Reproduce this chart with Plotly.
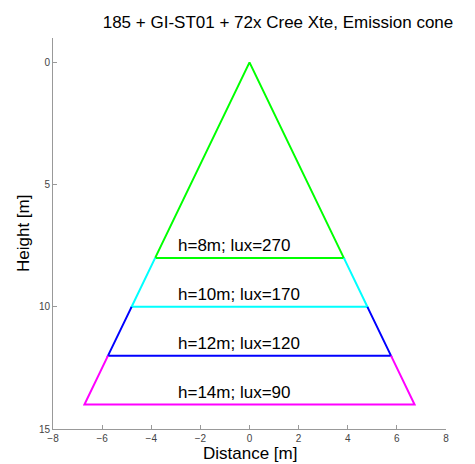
import plotly.graph_objects as go

heights = [8, 10, 12, 14]
half_widths = [3.84, 4.8, 5.76, 6.72]
lux = [270, 170, 120, 90]
colors = ["#00ff00", "#00ffff", "#0000ff", "#ff00ff"]
x_ticks = [-8, -6, -4, -2, 0, 2, 4, 6, 8]
y_ticks = [0, 5, 10, 15]
title = "185 + GI-ST01 + 72x Cree Xte, Emission cone"

FONT = "Liberation Sans, Arial, Helvetica, sans-serif"

fig = go.Figure()

prev_h, prev_w = 0, 0.0
for h, w, c in zip(heights, half_widths, colors):
    if prev_h == 0:
        xs = [-w, 0, w, -w]
        ys = [h, 0, h, h]
    else:
        xs = [-prev_w, -w, w, prev_w]
        ys = [prev_h, h, h, prev_h]
    fig.add_trace(go.Scatter(x=xs, y=ys, mode="lines",
                             line=dict(color=c, width=2), hoverinfo="skip",
                             showlegend=False))
    prev_h, prev_w = h, w

for h, l in zip(heights, lux):
    fig.add_annotation(x=-3, y=h - 0.5, xref="x", yref="y",
                       text=f"h={h}m; lux={l}", showarrow=False,
                       xanchor="left", yanchor="middle",
                       font=dict(family=FONT, size=17, color="#000"))

axis_common = dict(showgrid=False, zeroline=False, showline=True,
                   linecolor="#999", linewidth=1, ticks="inside",
                   ticklen=4, tickcolor="#999",
                   tickfont=dict(family=FONT, size=10, color="#444"))

fig.update_xaxes(range=[-8, 8], tickvals=x_ticks, **axis_common)
fig.update_yaxes(range=[15, -1], tickvals=y_ticks, **axis_common)

fig.add_annotation(x=0.5, y=0, xref="paper", yref="paper",
                   text="Distance [m]", showarrow=False,
                   xanchor="center", yanchor="top", yshift=-13,
                   font=dict(family=FONT, size=17, color="#000"))
fig.add_annotation(x=0, y=0.5, xref="paper", yref="paper",
                   text="Height [m]", showarrow=False, textangle=-90,
                   xanchor="right", yanchor="middle", xshift=-18,
                   font=dict(family=FONT, size=17, color="#000"))

fig.update_layout(
    width=475, height=464,
    margin=dict(l=53, r=29, t=38, b=35),
    plot_bgcolor="white", paper_bgcolor="white",
    title=dict(text=title, x=278/475, xanchor="center", xref="container",
               y=1 - 22/464, yanchor="middle", yref="container",
               font=dict(family=FONT, size=17, color="#000")),
)

fig.write_html("out.html", config={"displayModeBar": False},
               post_script="document.body.style.margin='0';document.body.style.overflow='hidden';")
